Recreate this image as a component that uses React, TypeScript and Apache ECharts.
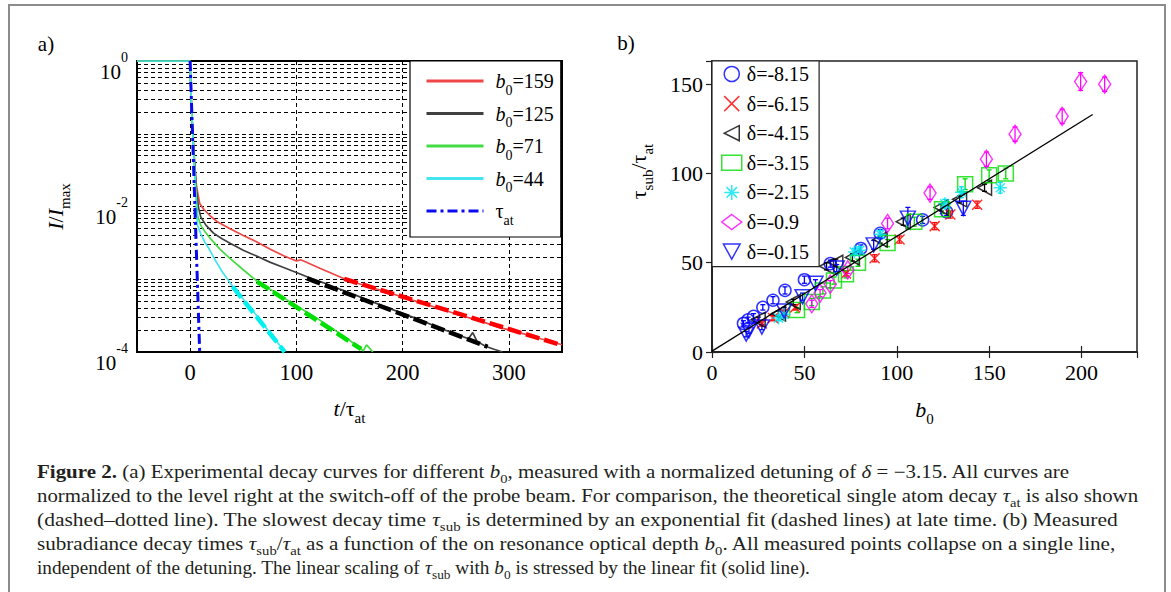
import React, { useEffect, useRef } from 'react';
import * as echarts from 'echarts';

const SERIF = '"Liberation Serif", "Times New Roman", serif';

// ---------------- Panel a: decay curves ----------------
const aNames = ['b0=159', 'b0=125', 'b0=71', 'b0=44', 'tau_at'];
const aLegendLabels = [
  '{i0|b}{sub|0}{n|=159}',
  '{i0|b}{sub|0}{n|=125}',
  '{i0|b}{sub|0}{n|=71}',
  '{i0|b}{sub|0}{n|=44}',
  '{n0|τ}{sub|at}',
];
const aCurveColors = ['#f04646', '#404040', '#44dc44', '#44e4f0'];
const aFitColors = ['#ff0000', '#000000', '#00e000', '#00f0f0'];
const tauColor = '#0a0aee';

const curve159 = [
  [-50, 1], [0, 1], [0.5, 0.5], [1.5, 0.2], [3, 0.075], [4.5, 0.035], [6, 0.019], [9, 0.011],
  [13, 0.0091], [19, 0.0074], [26, 0.0061], [38, 0.0049], [50, 0.004], [62, 0.0033], [75, 0.0026],
  [88, 0.0021], [100, 0.00178], [104, 0.00185], [110, 0.0017], [122, 0.00142], [132, 0.00123],
  [146, 0.001], [164, 0.00082], [182, 0.00069], [200, 0.00057], [218, 0.00047], [236, 0.00039],
  [254, 0.00032], [272, 0.00027], [290, 0.00022], [310, 0.000185], [330, 0.000152], [350, 0.000126],
];
const curve125 = [
  [-50, 1], [0, 1], [0.5, 0.5], [1.5, 0.2], [3, 0.075], [4.5, 0.033], [6, 0.016], [8, 0.0095],
  [10, 0.0072], [15, 0.0055], [22, 0.0043], [30, 0.0036], [38, 0.0031], [50, 0.0025], [62, 0.0021],
  [75, 0.00172], [88, 0.00145], [100, 0.00124], [110, 0.00108], [125, 0.0009], [140, 0.00074],
  [155, 0.00061], [170, 0.0005], [185, 0.00041], [200, 0.00034], [218, 0.00027], [236, 0.00021],
  [254, 0.000168], [262, 0.000152], [266, 0.000185], [270, 0.00014], [278, 0.00012], [286, 0.000109],
  [294, 0.0001],
];
const curve71 = [
  [-50, 1], [0, 1], [0.5, 0.5], [1.5, 0.2], [3, 0.07], [4.5, 0.03], [6, 0.012], [7, 0.0075],
  [10, 0.0055], [14, 0.0045], [20, 0.0035], [28, 0.0026], [38, 0.0019], [50, 0.00135], [63, 0.00094],
  [80, 0.00066], [100, 0.00043], [115, 0.00032], [132, 0.00022], [146, 0.00016], [156, 0.000125],
  [160, 0.000112], [163, 0.000104], [166, 0.000125], [169, 0.000112], [172, 0.0001],
];
const curve44 = [
  [-50, 1], [0, 1], [0.5, 0.5], [1.5, 0.2], [3, 0.065], [4.5, 0.025], [6, 0.009], [7, 0.0055],
  [10, 0.0042], [14, 0.0032], [18, 0.0026], [23, 0.0019], [30, 0.00128], [40, 0.0008], [48, 0.00058],
  [56, 0.00041], [64, 0.0003], [72, 0.00021], [80, 0.000148], [86, 0.000115], [89, 0.0001],
];
const fit159 = [[145, 0.00101], [350, 0.000124]];
const fit125 = [[110, 0.00103], [280, 0.000118]];
const fit71 = [[63, 0.00093], [161, 0.00011]];
const fit44 = [[40, 0.00079], [89, 0.0001]];
const tauAt = [[0, 1], [9, 0.0001]];

const xGridA = [0, 100, 200, 300];
const xLabelsA = [0, 100, 200, 300];
const yMinorGridA = [
  0.0002, 0.0003, 0.0004, 0.0005, 0.0006, 0.0007, 0.0008, 0.0009,
  0.002, 0.003, 0.004, 0.005, 0.006, 0.007, 0.008, 0.009,
  0.02, 0.03, 0.04, 0.05, 0.06, 0.07, 0.08, 0.09,
  0.2, 0.3, 0.4, 0.5, 0.6, 0.7, 0.8, 0.9,
];
const yLabelExpA = [0, -2, -4];

// ---------------- Panel b: tau_sub vs b0 ----------------
const bNames = ['δ=-8.15', 'δ=-6.15', 'δ=-4.15', 'δ=-3.15', 'δ=-2.15', 'δ=-0.9', 'δ=-0.15'];
const bColors = ['#0000ff', '#ff0000', '#000000', '#00dd00', '#00e5f0', '#ff00ff', '#0000ff'];

// [b0, tau_sub/tau_at, error]
const d815 = [
  [17, 16, 1.5], [19.5, 18, 1.5], [22.5, 20, 1.5], [27.5, 25, 1.5], [33, 29, 2], [39.5, 34.5, 2],
  [50, 40.5, 2], [64, 49.5, 2], [80.5, 58, 2], [91, 66.5, 2], [114, 74, 2], [127, 78.5, 2],
];
const d615 = [
  [27, 16, 1.5], [33, 19, 1.5], [39, 22, 1.5], [45, 25, 1.5], [72.5, 44, 1.5], [88, 52.5, 2],
  [101.5, 63, 2], [120.5, 70.5, 2], [129, 77, 2], [143.5, 82.5, 2],
];
const d415 = [
  [25, 18, 1.5], [36, 21.5, 1.5], [44, 28, 1.5], [62, 48, 2], [67, 50, 2], [76, 53, 2], [91, 63, 2],
  [103.5, 73, 2], [124, 81, 2], [134, 85.5, 2], [147.5, 92, 2],
];
const d315 = [
  [46, 23.5, 1.5], [54, 28, 2], [60, 34.5, 2], [66, 40, 2], [72.5, 43.5, 2], [79, 50, 2], [95, 61, 2],
  [109.5, 73, 2.5], [124.5, 80, 2.5], [137, 94, 3], [150, 99, 3], [159, 100, 3],
];
const d215 = [
  [36, 19, 1.5], [39, 21, 1.5], [77, 56, 2], [80, 57, 2], [91, 66, 2], [126, 83, 2.5], [135, 89.5, 3],
  [156, 92, 3],
];
const d09 = [
  [54, 27, 2], [58.5, 33, 2], [64, 38, 2], [73.5, 46, 2], [95, 72, 3], [118, 89, 3.5], [148.5, 108, 4],
  [164, 122, 4], [189.5, 132, 4], [199.5, 151.5, 5], [212.5, 150, 4],
];
const d015 = [
  [18.5, 10, 1.5], [20, 12, 1.5], [27, 14, 1.5], [39, 23, 2], [49, 31, 2], [56, 38.5, 2], [67.5, 47, 2],
  [87.5, 60, 2.5], [106, 75, 6], [136, 80.5, 4],
];
const fitB = [[0, 0.5], [206, 133]];

// ---------------- Caption ----------------
const captionLines = [
  '{bd|Figure 2.}{r| (a) Experimental decay curves for different }{it|b}{sub|0}{r|, measured with a normalized detuning of }{it|δ}{r| = −3.15. All curves are}',
  '{r|normalized to the level right at the switch-off of the probe beam. For comparison, the theoretical single atom decay }{it|τ}{sub|at}{r| is also shown}',
  '{r|(dashed–dotted line). The slowest decay time }{it|τ}{sub|sub}{r| is determined by an exponential fit (dashed lines) at late time. (b) Measured}',
  '{r|subradiance decay times }{it|τ}{sub|sub}{r|/}{it|τ}{sub|at}{r| as a function of the on resonance optical depth }{it|b}{sub|0}{r|. All measured points collapse on a single line,}',
  '{r|independent of the detuning. The linear scaling of }{it|τ}{sub|sub}{r| with }{it|b}{sub|0}{r| is stressed by the linear fit (solid line).}',
];
const captionWidths = [1033, 1101, 1081, 1080, 773];
const captionTops = [463, 487, 511, 535, 559];

const CAP_FS = 18;
const capRich: any = {
  r: { fontFamily: SERIF, fontSize: CAP_FS, lineHeight: CAP_FS, verticalAlign: 'top', fill: '#231f20', color: '#231f20' },
  bd: { fontFamily: SERIF, fontSize: CAP_FS, lineHeight: CAP_FS, fontWeight: 'bold', verticalAlign: 'top', fill: '#231f20', color: '#231f20' },
  it: { fontFamily: SERIF, fontSize: CAP_FS, lineHeight: CAP_FS, fontStyle: 'italic', verticalAlign: 'top', fill: '#231f20', color: '#231f20' },
  sub: { fontFamily: SERIF, fontSize: 12.5, lineHeight: 12.5, verticalAlign: 'top', padding: [9, 0, 0, 0], fill: '#231f20', color: '#231f20' },
};

const nameRich: any = {
  i: { fontFamily: SERIF, fontStyle: 'italic', fontSize: 22, lineHeight: 22, verticalAlign: 'top', color: '#000' },
  n: { fontFamily: SERIF, fontSize: 22, lineHeight: 22, verticalAlign: 'top', color: '#000' },
  sub: { fontFamily: SERIF, fontSize: 15, lineHeight: 15, verticalAlign: 'top', padding: [13, 0, 0, 0], color: '#000' },
};

const legendRichA: any = {
  i0: { fontFamily: SERIF, fontStyle: 'italic', fontSize: 20, lineHeight: 20, verticalAlign: 'top', padding: [0, 0, 0, 7], color: '#000' },
  n0: { fontFamily: SERIF, fontSize: 20, lineHeight: 20, verticalAlign: 'top', padding: [0, 0, 0, 7], color: '#000' },
  n: { fontFamily: SERIF, fontSize: 20, lineHeight: 20, verticalAlign: 'top', color: '#000' },
  sub: { fontFamily: SERIF, fontSize: 14, lineHeight: 14, verticalAlign: 'top', padding: [12, 0, 0, 0], color: '#000' },
};

function measureCaption(text: string): number {
  try {
    const t = new (echarts.graphic as any).Text({ style: { text, rich: capRich, fontFamily: SERIF, fontSize: CAP_FS } });
    return t.getBoundingRect().width;
  } catch (e) {
    return 0;
  }
}

function errSeries(data: number[][], color: string) {
  return {
    type: 'custom',
    xAxisIndex: 1,
    yAxisIndex: 1,
    silent: true,
    z: 2,
    data,
    encode: { x: 0, y: 1 },
    renderItem: (params: any, api: any) => {
      const x = api.value(0);
      const y = api.value(1);
      const e = api.value(2);
      const top = api.coord([x, y + e]);
      const bot = api.coord([x, y - e]);
      const c = 2.5;
      const st = { stroke: color, lineWidth: 1.3 };
      return {
        type: 'group',
        children: [
          { type: 'line', shape: { x1: top[0], y1: top[1], x2: bot[0], y2: bot[1] }, style: st },
          { type: 'line', shape: { x1: top[0] - c, y1: top[1], x2: top[0] + c, y2: top[1] }, style: st },
          { type: 'line', shape: { x1: bot[0] - c, y1: bot[1], x2: bot[0] + c, y2: bot[1] }, style: st },
        ],
      };
    },
  };
}

function scatterSeries(name: string, data: number[][], color: string, symbol: string, size: any) {
  return {
    type: 'scatter',
    name,
    xAxisIndex: 1,
    yAxisIndex: 1,
    z: 3,
    data: data.map((d) => [d[0], d[1]]),
    symbol,
    symbolSize: size,
    itemStyle: { color: 'transparent', borderColor: color, borderWidth: 1.5 },
  };
}

export default function App() {
  const ref = useRef<HTMLDivElement>(null);
  useEffect(() => {
    if (!ref.current) return;
    const chart = echarts.init(ref.current, null, { renderer: 'svg' });

    const lineBase = { type: 'line', xAxisIndex: 0, yAxisIndex: 0, symbol: 'none', showSymbol: false, z: 3 };
    const curves = [curve159, curve125, curve71, curve44].map((d, i) => ({
      ...lineBase,
      name: aNames[i],
      data: d,
      lineStyle: { color: aCurveColors[i], width: 1.7 },
      itemStyle: { color: aCurveColors[i] },
    }));
    const fits = [fit159, fit125, fit71, fit44].map((d, i) => ({
      ...lineBase,
      name: 'fit' + i,
      data: d,
      z: 4,
      lineStyle: { color: aFitColors[i], width: 4.5, type: [14, 5] },
    }));

    const capScales = captionLines.map((t, i) => {
      const w = measureCaption(t);
      return w > 0 ? captionWidths[i] / w : 0.95;
    });

    const option: any = {
      animation: false,
      backgroundColor: '#fff',
      grid: [
        { left: 137, top: 61, width: 425, height: 291, show: true, borderColor: '#000', borderWidth: 2, backgroundColor: 'transparent' },
        { left: 712, top: 61, width: 425, height: 291, show: true, borderColor: '#222', borderWidth: 1.5, backgroundColor: 'transparent' },
      ],
      xAxis: [
        {
          gridIndex: 0, type: 'value', min: -50, max: 350, interval: 50,
          axisLine: { show: false }, axisTick: { show: false }, splitLine: { show: false },
          axisLabel: {
            formatter: (v: number) => (xLabelsA.indexOf(v) >= 0 ? String(v) : ''),
            fontFamily: SERIF, fontSize: 22.5, lineHeight: 22, color: '#000', margin: 9,
          },
          name: '{i|t}{n|/τ}{sub|at}', nameLocation: 'middle', nameGap: 45,
          nameTextStyle: { rich: nameRich },
        },
        {
          gridIndex: 1, type: 'value', min: 0, max: 230, interval: 50,
          axisLine: { show: true, lineStyle: { color: '#222', width: 1.5 } },
          axisTick: { show: true, inside: true, length: 6, lineStyle: { color: '#222', width: 1.2 } },
          splitLine: { show: false },
          axisLabel: { showMaxLabel: false, fontFamily: SERIF, fontSize: 22, lineHeight: 22, color: '#000', margin: 9 },
          name: '{i|b}{sub|0}', nameLocation: 'middle', nameGap: 46,
          nameTextStyle: { rich: nameRich },
        },
        {
          gridIndex: 1, type: 'value', position: 'top', min: 0, max: 230, interval: 50,
          axisLine: { show: true, lineStyle: { color: '#222', width: 1.5 } },
          axisTick: { show: true, inside: true, length: 6, lineStyle: { color: '#222', width: 1.2 } },
          splitLine: { show: false }, axisLabel: { show: false },
        },
      ],
      yAxis: [
        {
          gridIndex: 0, type: 'log', logBase: 10, min: 0.0001, max: 1, splitNumber: 4,
          axisLine: { show: false }, axisTick: { show: false },
          splitLine: { show: true, lineStyle: { type: [4, 3], color: '#000', width: 1 } },
          axisLabel: {
            margin: 9,
            formatter: (v: number) => {
              const e = Math.round(Math.log10(v));
              return yLabelExpA.indexOf(e) >= 0 ? '{b|10}{s|' + e + '}' : '';
            },
            rich: {
              b: { fontFamily: SERIF, fontSize: 21, lineHeight: 42, verticalAlign: 'top', padding: [21, 0, 0, 0], color: '#000' },
              s: { fontFamily: SERIF, fontSize: 14, lineHeight: 14, verticalAlign: 'top', padding: [10, 0, 0, 0], color: '#000' },
            },
          },
          name: '{i|I}{n|/}{i|I}{sub|max}', nameLocation: 'middle', nameRotate: 90, nameGap: 71,
          nameTextStyle: { rich: nameRich },
        },
        {
          gridIndex: 1, type: 'value', min: 0, max: 163, interval: 50,
          axisLine: { show: true, lineStyle: { color: '#222', width: 1.5 } },
          axisTick: { show: true, inside: true, length: 6, lineStyle: { color: '#222', width: 1.2 } },
          splitLine: { show: false },
          axisLabel: { showMaxLabel: false, fontFamily: SERIF, fontSize: 22, lineHeight: 22, color: '#000', margin: 9 },
          name: '{n|τ}{sub|sub}{n|/τ}{sub|at}', nameLocation: 'middle', nameRotate: 90, nameGap: 63,
          nameTextStyle: { rich: nameRich, padding: [0, 0, 0, 70] },
        },
        {
          gridIndex: 1, type: 'value', position: 'right', min: 0, max: 163, interval: 50,
          axisLine: { show: true, lineStyle: { color: '#222', width: 1.5 } },
          axisTick: { show: true, inside: true, length: 6, lineStyle: { color: '#222', width: 1.2 } },
          splitLine: { show: false }, axisLabel: { show: false },
        },
      ],
      legend: [
        {
          data: aNames, orient: 'vertical', left: 410, top: 61,
          itemWidth: 57, itemHeight: 14, itemGap: 6.5,
          padding: [10, 7, 10, 15],
          backgroundColor: '#fff', borderColor: '#000', borderWidth: 1.2, borderRadius: 0,
          selectedMode: false, z: 10,
          formatter: (name: string) => aLegendLabels[aNames.indexOf(name)],
          textStyle: { fontFamily: SERIF, fontSize: 20, color: '#000', rich: legendRichA },
          lineStyle: { width: 3 },
          itemStyle: { color: 'transparent', borderWidth: 0, opacity: 0 },
        },
        {
          data: bNames, orient: 'vertical', left: 712, top: 61,
          itemWidth: 20, itemHeight: 15, itemGap: 9.6,
          padding: [3, 10, 5, 9],
          backgroundColor: '#fff', borderColor: '#222', borderWidth: 1.2, borderRadius: 0,
          selectedMode: false, z: 10,
          itemStyle: { borderWidth: 1.5 },
          textStyle: { fontFamily: SERIF, fontSize: 20, lineHeight: 20, color: '#000' },
        },
      ],
      series: [
        {
          type: 'line', name: 'grid', xAxisIndex: 0, yAxisIndex: 0, data: [[-50, 1]], symbol: 'none',
          lineStyle: { opacity: 0 }, silent: true, z: 1,
          markLine: {
            silent: true, symbol: ['none', 'none'], z: 1, animation: false, precision: 10,
            label: { show: false },
            lineStyle: { type: [4, 3], color: '#000', width: 1 },
            emphasis: { disabled: true },
            data: [
              ...yMinorGridA.map((v) => ({ yAxis: v })),
              ...xGridA.map((v) => ({ xAxis: v })),
            ],
          },
        },
        ...curves,
        ...fits,
        {
          ...lineBase, name: 'tau_at', data: tauAt, z: 5,
          lineStyle: { color: tauColor, width: 3, type: [10, 4, 3, 4] },
          itemStyle: { color: tauColor },
        },
        // panel b
        {
          type: 'line', name: 'linear fit', xAxisIndex: 1, yAxisIndex: 1, data: fitB, symbol: 'none',
          lineStyle: { color: '#000', width: 1.3 }, z: 4, silent: true,
        },
        errSeries(d815, bColors[0]),
        errSeries(d615, bColors[1]),
        errSeries(d415, bColors[2]),
        errSeries(d315, bColors[3]),
        errSeries(d215, bColors[4]),
        errSeries(d09, bColors[5]),
        errSeries(d015, bColors[6]),
        scatterSeries(bNames[0], d815, bColors[0], 'circle', 12),
        scatterSeries(bNames[1], d615, bColors[1], 'path://M0,0L10,10M10,0L0,10', 10),
        scatterSeries(bNames[2], d415, bColors[2], 'path://M10,0L0,5L10,10Z', [14, 15]),
        scatterSeries(bNames[3], d315, bColors[3], 'rect', 15),
        scatterSeries(bNames[4], d215, bColors[4], 'path://M5,0L5,10M0,5L10,5M1.5,1.5L8.5,8.5M8.5,1.5L1.5,8.5', 13),
        scatterSeries(bNames[5], d09, bColors[5], 'diamond', [12, 18]),
        scatterSeries(bNames[6], d015, bColors[6], 'path://M0,0L10,0L5,9Z', [15, 14]),
      ],
      graphic: [
        {
          type: 'rect', silent: true, z: -10,
          shape: { x: 9, y: 5, width: 1156, height: 700 },
          style: { fill: 'none', stroke: '#8c8c8c', lineWidth: 2 },
        },
        {
          type: 'text', silent: true, x: 46, y: 44,
          style: { text: 'a)', fontFamily: SERIF, fontSize: 21, fill: '#000', align: 'center', verticalAlign: 'middle' },
        },
        {
          type: 'text', silent: true, x: 626, y: 43,
          style: { text: 'b)', fontFamily: SERIF, fontSize: 21, fill: '#000', align: 'center', verticalAlign: 'middle' },
        },
        ...captionLines.map((t, i) => ({
          type: 'text', silent: true, x: 37, y: captionTops[i], scaleX: capScales[i],
          style: { text: t, rich: capRich, fontFamily: SERIF, fontSize: CAP_FS, fill: '#231f20' },
        })),
      ],
    };
    chart.setOption(option);
    return () => chart.dispose();
  }, []);
  return (
    <div
      ref={ref}
      style={{ position: 'fixed', left: 0, top: 0, width: 1171, height: 592, background: '#fff' }}
    />
  );
}
